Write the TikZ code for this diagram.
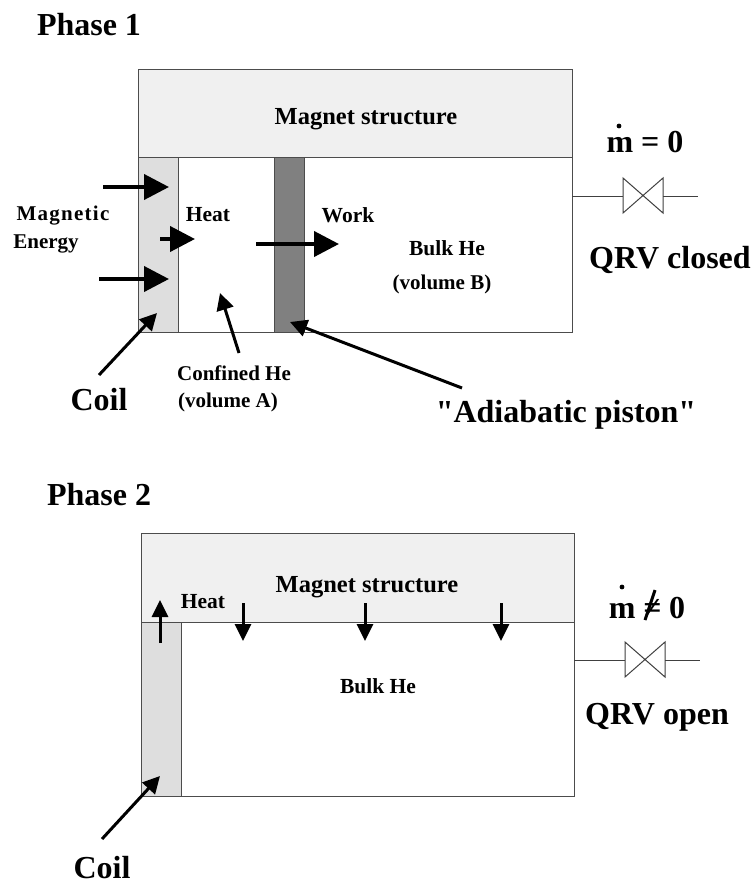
\documentclass[tikz,border=0pt]{standalone}
\usepackage{fontspec}
\setmainfont{Liberation Serif}
\newfontfamily\straightfont{Liberation Serif}
\usetikzlibrary{arrows.meta}
\tikzset{
    label/.style = {font=\bfseries\fontsize{#1}{#1}\selectfont, inner sep=0pt},
    wall/.style = {draw=black!70, line width=1pt},
    bigarrow/.style = {line width=4pt, -{Triangle[length=25pt, width=25pt]}},
    midarrow/.style = {line width=3pt, -{Triangle[length=17pt, width=17pt]}},
    thinarrow/.style = {line width=3pt, -{Triangle[length=17pt, width=16pt]}},
    pipe/.style = {draw=black!75, line width=1pt}
}
\begin{document}
\begin{tikzpicture}[x = 1pt, y = -1pt]
        \useasboundingbox (0, 0) rectangle (752, 884);
        \fill [white] (0, 0) rectangle (752, 884);

        % phase 1
        \draw [wall, fill=black!6] (138, 69) rectangle (572, 157);
        \draw [wall, fill=white] (138, 157) rectangle (572, 332);
        \draw [wall, fill=black!13] (138, 157) rectangle (178, 332);
        \draw [wall, fill=black!50] (274, 157) rectangle (304, 332);
        \node [label=32] (phaseA) at (89, 25) {Phase 1};
        \node [label=24.5] (magnetA) at (366, 119) {Magnet structure};
        \node [label=21] (magneticA) at (63, 216) {\addfontfeature{LetterSpace=6}Magnetic};
        \node [label=21] (energyA) at (46, 244) {Energy};
        \node [label=21.5] (heatA) at (208, 215) {Heat};
        \node [label=21.5] (workA) at (348, 215) {Work};
        \node [label=21.5] (bulkA) at (447, 248) {Bulk He};
        \node [label=21] (volB) at (442, 284) {(volume B)};
        \node [label=21] (confinedA) at (234, 373) {Confined He};
        \node [label=21] (volA) at (228, 402) {(volume A)};
        \node [label=32] (coilA) at (99, 400) {Coil};
        \node [label=32] (pistonA) at (566, 415) {{\straightfont\bfseries "}Adiabatic piston{\straightfont\bfseries "}};
        \node [label=32] (flowA) at (645, 142) {m = 0};
        \fill (619, 126) circle (2.4);
        \node [label=32] (stateA) at (670, 260) {QRV closed};
        \coordinate (coilTipA) at (157, 313);
        \coordinate (coilEndA) at (99, 375);
        \coordinate (volTipA) at (220, 293);
        \coordinate (volEndA) at (239, 353);
        \coordinate (pistonTipA) at (290, 322);
        \coordinate (pistonEndA) at (462, 388);
        \draw [bigarrow] (103, 187) -- (169, 187);
        \draw [bigarrow] (99, 279) -- (169, 279);
        \draw [bigarrow] (160, 239) -- (195, 239);
        \draw [bigarrow] (256, 244) -- (339, 244);
        \draw [midarrow] (coilEndA) -- (coilTipA);
        \draw [midarrow] (volEndA) -- (volTipA);
        \draw [midarrow] (pistonEndA) -- (pistonTipA);
        \coordinate (valveInA) at (623, 196);
        \coordinate (valveOutA) at (663, 196);
        \draw [pipe] (572, 196) -- (valveInA);
        \draw [pipe] (valveOutA) -- (698, 196);
        \draw [pipe] (623, 178) -- (663, 213) -- (663, 178) -- (623, 213) -- cycle;

        % phase 2
        \draw [wall, fill=black!6] (141, 533) rectangle (574, 622);
        \draw [wall, fill=white] (141, 622) rectangle (574, 796);
        \draw [wall, fill=black!13] (141, 622) rectangle (181, 796);
        \node [label=32] (phaseB) at (99, 495) {Phase 2};
        \node [label=24.5] (magnetB) at (367, 587) {Magnet structure};
        \node [label=21.5] (heatB) at (203, 602) {Heat};
        \node [label=21.5] (bulkB) at (378, 686) {Bulk He};
        \node [label=32] (coilB) at (102, 868) {Coil};
        \node [label=32, anchor=base] (flowB) at (647, 618) {m ≠ 0};
        \fill (622, 587) circle (2.4);
        \draw [line width=3pt] (645, 620) -- (655, 590);
        \node [label=32] (stateB) at (657, 717) {QRV open};
        \coordinate (coilTipB) at (160, 776);
        \coordinate (coilEndB) at (102, 839);
        \draw [midarrow] (coilEndB) -- (coilTipB);
        \draw [thinarrow] (160, 643) -- (160, 600);
        \foreach \x in {243, 365, 501}
            \draw [thinarrow] (\x, 603) -- (\x, 641);
        \coordinate (valveInB) at (625, 660);
        \coordinate (valveOutB) at (665, 660);
        \draw [pipe] (574, 660) -- (valveInB);
        \draw [pipe] (valveOutB) -- (700, 660);
        \draw [pipe] (625, 642) -- (665, 677) -- (665, 642) -- (625, 677) -- cycle;
    \end{tikzpicture}
\end{document}
